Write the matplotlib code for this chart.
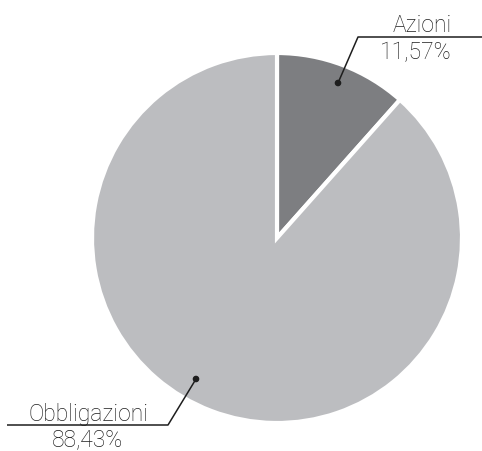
import matplotlib
matplotlib.use("Agg")
import matplotlib.pyplot as plt
from matplotlib.patches import Circle

labels = ["Azioni", "Obbligazioni"]
values = [11.57, 88.43]
value_labels = ["11,57%", "88,43%"]
colors = ["#7d7e81", "#bcbdc0"]

W, H = 482, 451
fig = plt.figure(figsize=(W / 100, H / 100), dpi=100)
ax = fig.add_axes([0, 0, 1, 1])

cx, cy, r = 277, H - 238, 185
ax.pie(values, colors=colors, startangle=90, counterclock=False,
       center=(cx, cy), radius=r, frame=True,
       wedgeprops=dict(edgecolor="white", linewidth=3))
ax.set_xlim(0, W)
ax.set_ylim(0, H)
ax.set_aspect("equal")
ax.axis("off")

ink = "#1e1e1e"
font = dict(family=["Roboto", "DejaVu Sans"], fontweight="light", color=ink, fontsize=16.5)

# Azioni annotation
ax.plot([338, 358, 482], [H - 83, H - 37, H - 37], color=ink, lw=1.1, solid_capstyle="butt")
ax.add_patch(Circle((338, H - 83), 2.6, color=ink))
ax.text(452, H - 32, labels[0], ha="right", va="baseline", **font)
ax.text(452, H - 59, value_labels[0], ha="right", va="baseline", **font)

# Obbligazioni annotation
ax.plot([196, 168, 7], [H - 379, H - 425, H - 425], color=ink, lw=1.1, solid_capstyle="butt")
ax.add_patch(Circle((196, H - 379), 2.6, color=ink))
ax.text(29, H - 421, labels[1], ha="left", va="baseline", **font)
ax.text(52, H - 446, value_labels[1], ha="left", va="baseline", **font)

fig.savefig("out.png", dpi=100)
